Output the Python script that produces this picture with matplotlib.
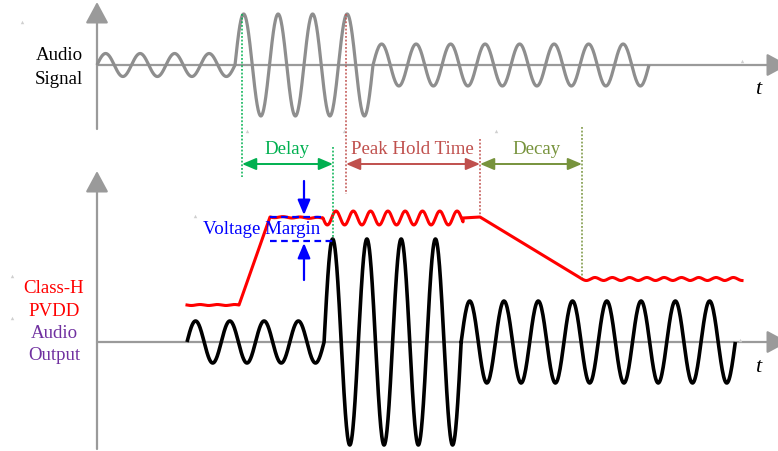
import numpy as np
import matplotlib
matplotlib.use("Agg")
import matplotlib.pyplot as plt

# ---------------- data (pixel-like diagram coordinates) ----------------
# Audio signal (top): sine segments with continuous phase
sig_start = 97
sig_period = 34.5
sig_cycles = [4, 4, 8]
sig_amps = [11.5, 51, 21]
sig_center = 66

# Audio output (bottom)
out_start = 187
out_period = 34.27
out_cycles = [4, 4, 8]
out_amps = [21, 103, 41]
out_center = 343

# Class-H PVDD rail: knots, and ripple amplitude on each segment
pvdd_x = [187, 239, 270, 323, 463, 480, 582, 742]
pvdd_y = [306, 306, 218, 219, 219, 218, 280, 280]
pvdd_ripple = [0.5, 0, 0.6, 7, 0, 0, 1.5]
pvdd_ripple_period = 17.3

# timing markers
t_delay = [242, 333]
t_hold = [346, 480]
t_decay = [480, 582]

GREEN = "#00B050"
RED_T = "#C0504D"
OLIVE = "#77933C"
BLUE = "#0000FF"
PURPLE = "#7030A0"
GRAY_AX = "#9A9A9A"
GRAY_SIG = "#8E8E8E"

SERIF = "Liberation Serif"
FS = 13.6

fig = plt.figure(figsize=(7.78, 4.52), dpi=100)
ax = fig.add_axes([0, 0, 1, 1])
ax.set_xlim(0, 778)
ax.set_ylim(452, 0)
ax.axis("off")


def wave(start, period, cycles, amps, center):
    xs, ys = [], []
    x0 = start
    for c, a in zip(cycles, amps):
        x1 = x0 + c * period
        x = np.linspace(x0, x1, 400)
        y = center - a * np.sin(2 * np.pi * (x - start) / period)
        xs.append(x)
        ys.append(y)
        x0 = x1
    return np.concatenate(xs), np.concatenate(ys)


def axis_arrow(x0, y0, x1, y1):
    ax.annotate("", xy=(x1, y1), xytext=(x0, y0),
                arrowprops=dict(arrowstyle="-|>,head_length=1.3,head_width=0.7",
                                color=GRAY_AX, lw=1.6, shrinkA=0, shrinkB=0,
                                mutation_scale=10),
                annotation_clip=False, zorder=1)


# axes
axis_arrow(97, 130, 97, 3)
axis_arrow(97, sig_center, 788, sig_center)
axis_arrow(97, 450, 97, 172)
axis_arrow(97, out_center, 788, out_center)

# audio signal
x, y = wave(sig_start, sig_period, sig_cycles, sig_amps, sig_center)
ax.plot(x, y, color=GRAY_SIG, lw=2.3, zorder=3, solid_capstyle="butt")

# audio output
x, y = wave(out_start, out_period, out_cycles, out_amps, out_center)
ax.plot(x, y, color="black", lw=2.6, zorder=3, solid_capstyle="butt")

# PVDD
px, py = [], []
for i in range(len(pvdd_x) - 1):
    x = np.linspace(pvdd_x[i], pvdd_x[i + 1], 200)
    base = np.interp(x, [pvdd_x[i], pvdd_x[i + 1]], [pvdd_y[i], pvdd_y[i + 1]])
    y = base + pvdd_ripple[i] * np.sin(2 * np.pi * (x - pvdd_x[i]) / pvdd_ripple_period)
    px.append(x)
    py.append(y)
ax.plot(np.concatenate(px), np.concatenate(py), color="#FF0000", lw=2.2, zorder=4)

# dotted marker lines
dot = (0, (1.2, 1.2))
ax.plot([t_delay[0]] * 2, [15, 178], color=GREEN, lw=1.1, ls=dot, zorder=5)
ax.plot([t_delay[1]] * 2, [148, 240], color=GREEN, lw=1.1, ls=dot, zorder=5)
ax.plot([t_hold[0]] * 2, [15, 195], color=RED_T, lw=1.1, ls=dot, zorder=5)
ax.plot([t_hold[1]] * 2, [140, 217], color=RED_T, lw=1.1, ls=dot, zorder=5)
ax.plot([t_decay[1]] * 2, [128, 279], color=OLIVE, lw=1.1, ls=dot, zorder=5)


def dbl_arrow(x0, x1, y, color):
    ax.annotate("", xy=(x1, y), xytext=(x0, y),
                arrowprops=dict(arrowstyle="<|-|>,head_length=0.85,head_width=0.36",
                                color=color, lw=1.4, shrinkA=0, shrinkB=0,
                                mutation_scale=10), zorder=6)


dbl_arrow(t_delay[0], t_delay[1], 165, GREEN)
dbl_arrow(t_hold[0], t_hold[1], 165, RED_T)
dbl_arrow(t_decay[0], t_decay[1], 165, OLIVE)

ax.text(287, 150, "Delay", color=GREEN, fontsize=FS, family=SERIF, ha="center", va="center")
ax.text(412, 150, "Peak Hold Time", color=RED_T, fontsize=FS, family=SERIF, ha="center", va="center")
ax.text(537, 150, "Decay", color=OLIVE, fontsize=FS, family=SERIF, ha="center", va="center")

# voltage margin
ax.plot([270, 323], [218, 218], color=BLUE, lw=1.6, ls=(0, (3, 2)), zorder=6)
ax.plot([270, 333], [242, 242], color=BLUE, lw=1.6, ls=(0, (3, 2)), zorder=6)
for ys, ye in [(182, 216), (281, 244)]:
    ax.annotate("", xy=(304, ye), xytext=(304, ys),
                arrowprops=dict(arrowstyle="-|>,head_length=0.9,head_width=0.38",
                                color=BLUE, lw=1.6, shrinkA=0, shrinkB=0,
                                mutation_scale=10), zorder=6)
ax.text(262, 230, "Voltage Margin", color=BLUE, fontsize=FS, family=SERIF,
        ha="center", va="center", zorder=7)

# labels
ax.text(59, 56, "Audio", color="black", fontsize=FS, family=SERIF, ha="center", va="center")
ax.text(59, 79, "Signal", color="black", fontsize=FS, family=SERIF, ha="center", va="center")
ax.text(54, 289, "Class-H", color="#FF0000", fontsize=FS, family=SERIF, ha="center", va="center")
ax.text(54, 312, "PVDD", color="#FF0000", fontsize=FS, family=SERIF, ha="center", va="center")
ax.text(54, 334, "Audio", color=PURPLE, fontsize=FS, family=SERIF, ha="center", va="center")
ax.text(54, 356, "Output", color=PURPLE, fontsize=FS, family=SERIF, ha="center", va="center")
ax.text(758, 89, "t", color="black", fontsize=16, family=SERIF, style="italic", ha="center", va="center")
ax.text(758, 368, "t", color="black", fontsize=16, family=SERIF, style="italic", ha="center", va="center")

# tiny anchor markers seen in the original
mk_x = [22, 247, 344, 496, 742, 195, 12, 12, 740]
mk_y = [23, 132, 132, 132, 62, 217, 277, 319, 341]
ax.scatter(mk_x, mk_y, marker="^", s=6, color="#CFCFCF", zorder=2, linewidths=0)

fig.savefig("out.png", dpi=100)
